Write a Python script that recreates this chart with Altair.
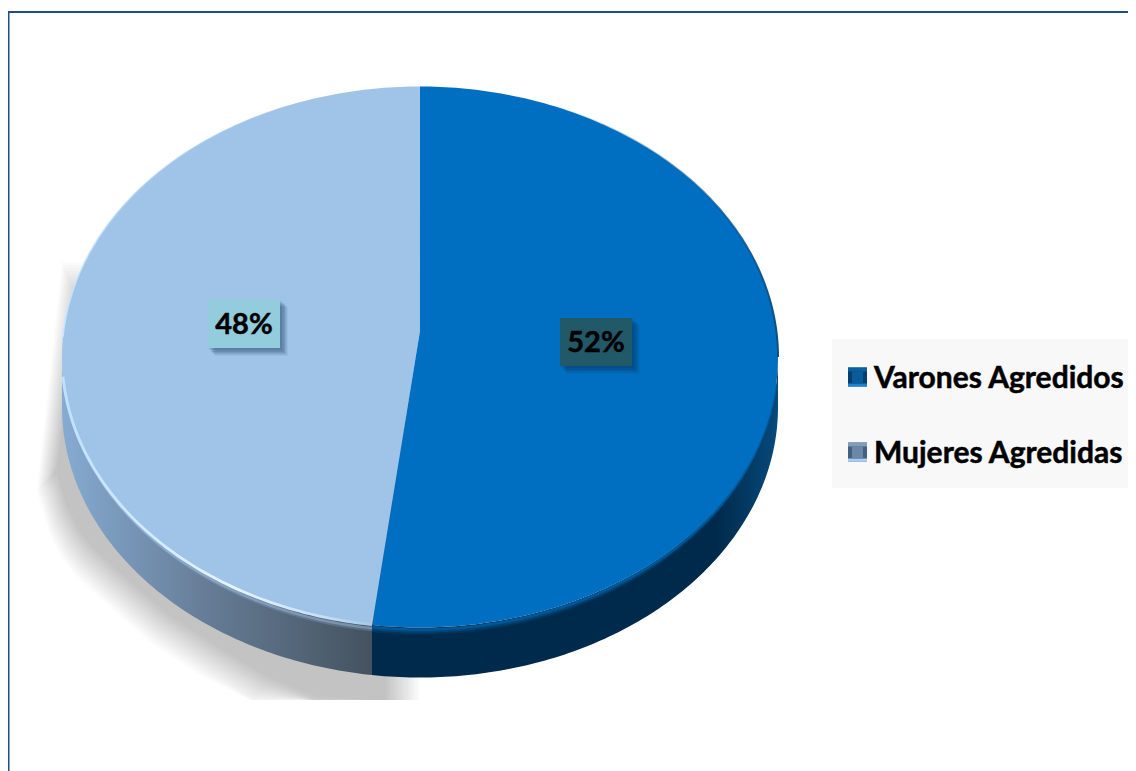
import math
import altair as alt
import pandas as pd

categories = ["Varones Agredidos", "Mujeres Agredidas"]
values = [52.14, 47.86]
slice_colors = ["#006fc1", "#9fc4e8"]
label_box_colors = ["#215968", "#93cddd"]

# outer contour of the drop shadow
shadow_x = [37, 50, 62, 75, 100, 150, 200, 250, 300, 350, 400, 420]
shadow_bottom = [492, 535, 558, 575, 598, 642, 675, 705, 725, 730, 730, 730]

CX, CY, A, B, T = 420.0, 357.0, 358.0, 270.5, 50.0
PIVOT_Y, LABEL_F = 331.0, 0.494
share = values[0] / sum(values)
BX = CX + A * math.sin(2 * math.pi * share)


def half(x):
    return B * math.sqrt(max(0.0, 1 - ((x - CX) / A) ** 2))


def sweep(x0, x1, n=220):
    out = []
    for i in range(n + 1):
        t = -math.pi / 2 + math.pi * i / n
        x = CX + A * math.sin(t)
        if x0 <= x <= x1:
            out.append(x)
    return sorted(set([x0] + out + [x1]))


def divider(x):
    yb = CY + half(BX)
    return PIVOT_Y + (yb - PIVOT_Y) * (CX - x) / (CX - BX)


X = alt.Scale(domain=[8, 1128], zero=False, nice=False)
Y = alt.Scale(domain=[8, 771], zero=False, nice=False, reverse=True)


def area(rows, **mark):
    df = pd.DataFrame(rows, columns=["x", "y", "y2"])
    return alt.Chart(df).mark_area(orient="vertical", interpolate="linear", **mark).encode(
        x=alt.X("x:Q", scale=X, axis=None),
        y=alt.Y("y:Q", scale=Y, axis=None, stack=None),
        y2=alt.Y2("y2"),
    )


def line(rows, **mark):
    df = pd.DataFrame(rows, columns=["x", "y"]).assign(i=lambda d: d.index)
    return alt.Chart(df).mark_line(interpolate="linear", **mark).encode(
        x=alt.X("x:Q", scale=X, axis=None),
        y=alt.Y("y:Q", scale=Y, axis=None),
        order="i:Q",
    )


def box(x, x2, y, y2, **mark):
    df = pd.DataFrame({"x": [x], "x2": [x2], "y": [y], "y2": [y2]})
    return alt.Chart(df).mark_rect(**mark).encode(
        x=alt.X("x:Q", scale=X, axis=None),
        x2="x2:Q",
        y=alt.Y("y:Q", scale=Y, axis=None),
        y2="y2:Q",
    )


def text(s, x, y, **mark):
    df = pd.DataFrame({"x": [x], "y": [y], "t": [s]})
    return alt.Chart(df).mark_text(baseline="middle", font="Lato", fontWeight="bold", color="#000000",
                                   stroke="#000000", strokeWidth=0.5, **mark).encode(
        x=alt.X("x:Q", scale=X, axis=None),
        y=alt.Y("y:Q", scale=Y, axis=None),
        text="t:N",
    )


def hgrad(*stops):
    return alt.LinearGradient(gradient="linear", x1=0, x2=1, y1=0, y2=0,
                              stops=[alt.GradientStop(offset=o, color=c) for o, c in stops])


layers = []

# page frame
layers.append(box(8, 1128, 11, 13, color="#1f4e86"))
layers.append(box(8, 9.5, 11, 771, color="#1f4e86"))

# drop shadow (soft edge from stacked insets)
for d in range(0, 30, 2):
    rows = []
    n = len(shadow_x)
    for k, (sx, sb) in enumerate(zip(shadow_x, shadow_bottom)):
        x = sx + d * 0.6
        if k >= n - 2:
            x = sx - d * 1.2
        top_end = 262 + d * 1.5
        if sx < 62:
            top = 490 + (top_end - 490) * (sx - 37) / (62 - 37)
        else:
            top = top_end
        rows.append((x, top, min(700, sb - d)))
    layers.append(area(rows, color="#000000", opacity=0.0148))

# side wall
left_wall = [(x, CY + half(x), CY + T + half(x)) for x in sweep(CX - A, BX)]
right_wall = [(x, CY + half(x), CY + T + half(x)) for x in sweep(BX, CX + A)]
layers.append(area(left_wall, fill=hgrad((0, "#86abd2"), (0.45, "#677e98"), (1, "#44525f"))))
layers.append(area(right_wall, fill=hgrad((0, "#002a4b"), (0.85, "#002a4b"), (1, "#064a7c"))))

# bevel between the wall and the top face
xs_r = sweep(BX, CX + A - 2)
for off, col, op in [(6, "#01375f", 0.8), (4, "#014a80", 0.8), (2, "#015c9f", 0.9)]:
    layers.append(line([(x, CY + half(x) + off * half(x) / B) for x in xs_r],
                       color=col, strokeWidth=2.5, opacity=op))
xs_l = sweep(CX - A + 2, BX)
for off, col, op in [(5, "#7f9fc2", 0.35), (3, "#a8c8e8", 0.5)]:
    layers.append(line([(x, CY + half(x) + off * half(x) / B) for x in xs_l],
                       color=col, strokeWidth=2.5, opacity=op))

# top face
rows_l = []
for x in sweep(CX - A, CX):
    bottom = CY + half(x) if x < BX else divider(x)
    rows_l.append((x, CY - half(x), bottom))
rows_r = []
for x in sweep(BX, CX + A):
    if x < CX:
        rows_r.append((x, divider(x), CY + half(x)))
rows_r.append((CX - 0.01, PIVOT_Y, CY + half(CX)))
for x in sweep(CX, CX + A):
    rows_r.append((x, CY - half(x), CY + half(x)))
layers.append(area(rows_l, color=slice_colors[1]))
layers.append(area(rows_r, color=slice_colors[0]))

# light rim on the front-left edge and dark rim on the upper right
layers.append(line([(x, CY + half(x) - 0.5) for x in sweep(CX - A + 1, BX)], strokeWidth=2.8,
                   stroke=hgrad((0, "#c0e0ff"), (0.55, "#e6f4ff"), (0.85, "#c5def6"), (1, "#a5c8ea"))))
layers.append(line([(x, CY - half(x)) for x in sweep(CX - A + 1, CX - 120)], strokeWidth=1.5,
                   stroke=hgrad((0, "#c8e4ff"), (1, "rgba(159,196,232,0)"))))
layers.append(line([(x, CY - half(x)) for x in sweep(CX + 130, CX + A)], strokeWidth=2,
                   stroke=hgrad((0, "rgba(0,111,193,0)"), (1, "#0a4f85"))))

# data labels
cum = 0.0
total = sum(values)
for v, col in zip(values, label_box_colors):
    mid = 2 * math.pi * (cum + v / 2) / total
    cum += v
    lx = CX + A * LABEL_F * math.sin(mid)
    ly = PIVOT_Y - B * LABEL_F * math.cos(mid) + 2
    lx, ly = round(lx), round(ly)
    for s, op in [(8, 0.05), (7, 0.07), (6, 0.08), (5, 0.1), (4, 0.12), (2, 0.12)]:
        layers.append(box(lx - 36 + s - 1, lx + 36 + s, ly - 24 + s - 1, ly + 24 + s, color="#0b2a4a", opacity=op))
    layers.append(box(lx - 36, lx + 36, ly - 24, ly + 24, color=col))
    layers.append(text(f"{round(v)}%", lx, ly + 1, fontSize=29, align="center"))

# legend
layers.append(box(832, 1128, 339, 488, color="#f8f8f8"))
legend_rows = [
    (377, "#0a5f9e", "#033f70", "#1c82d0", "#0a5c99"),
    (452, "#7f9dbd", "#44607f", "#a6cdf2", "#6a89a8"),
]
for (ly, top, side, bot, mid), name in zip(legend_rows, categories):
    layers.append(box(848, 867, ly - 9.5, ly + 9.5, color=side))
    layers.append(box(848, 867, ly - 9.5, ly - 5.5, color=top))
    layers.append(box(848, 867, ly + 6.5, ly + 9.5, color=bot))
    layers.append(box(852, 863, ly - 5.5, ly + 6.5, color=mid))
    layers.append(text(name, 874, ly + 1.5, fontSize=30, align="left"))

chart = alt.layer(*layers).properties(
    width=1120, height=763, padding=0,
    autosize=alt.AutoSizeParams(type="none"),
    background="#ffffff",
).configure_view(stroke=None)

chart.save("out.html", embed_options={"renderer": "svg", "actions": False})
